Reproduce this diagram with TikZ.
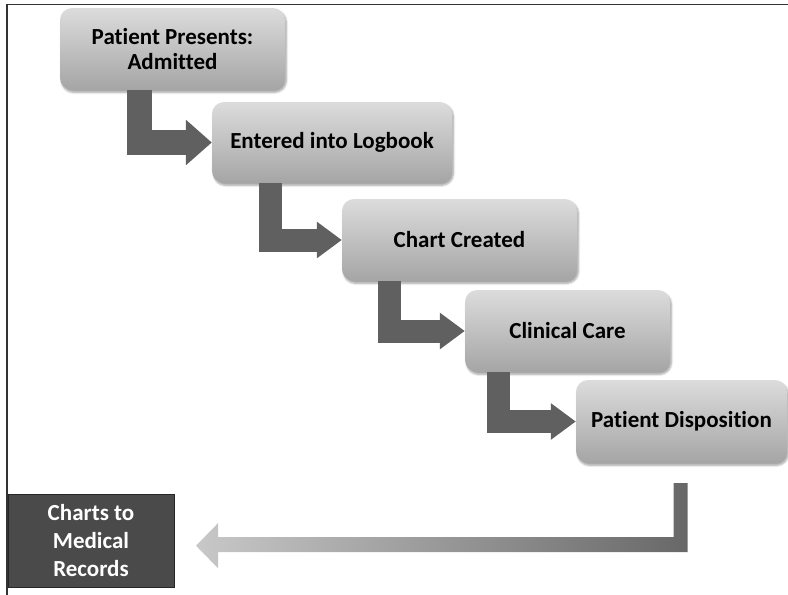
\documentclass[tikz,border=0pt]{standalone}
\usepackage{fontspec}
\setmainfont{Carlito}[Ligatures=NoCommon]
\usetikzlibrary{arrows.meta,shadows.blur}

\definecolor{boxhaut}{HTML}{DCDCDC}
\definecolor{boxbas}{HTML}{A5A5A5}
\definecolor{fleche}{HTML}{606060}
\definecolor{archive}{HTML}{4A4A4A}
\definecolor{retourclair}{HTML}{C8C8C8}
\definecolor{retourfonce}{HTML}{686868}

\tikzset{
  etape/.style={rounded corners=12pt, top color=boxhaut, bottom color=boxbas,
    blur shadow={shadow xshift=1.5pt, shadow yshift=-2.5pt, shadow opacity=35, shadow blur steps=6},
    align=center, inner sep=0pt, font=\bfseries\fontsize{23}{25}\selectfont},
  depot/.style={fill=archive, draw=black!85, line width=0.8pt, text=white,
    align=center, inner sep=0pt, font=\bfseries\fontsize{23}{28}\selectfont},
  coude/.style={draw=fleche, line width=23pt, line join=miter,
    -{Triangle[width=35pt,length=25pt]}},
}

\begin{document}
\begin{tikzpicture}[x=1pt, y=-1pt]

\useasboundingbox (0,0) rectangle (788,595);

% --- Cadre ---
\draw[black!80, line width=1.5pt] (788,4.5) -- (7,4.5) -- (7,595);

% --- Etapes ---
\node[etape, minimum width=225pt, minimum height=82pt] (b1) at (172.5,49) {Patient Presents:\\Admitted};
\node[etape, minimum width=240pt, minimum height=81pt] (b2) at (332,142.5) {Entered into Logbook};
\node[etape, minimum width=235pt, minimum height=82pt] (b3) at (459.5,240) {Chart Created};
\node[etape, minimum width=205pt, minimum height=82pt] (b4) at (567.5,331) {Clinical Care};
\node[etape, minimum width=211pt, minimum height=83pt] (b5) at (681.5,421.5) {Patient Disposition};

\node[depot, minimum width=166pt, minimum height=93pt] (recs) at (91,540.5) {Charts to\\Medical\\Records};

% --- Fleches coudees ---
\draw[coude, line width=25pt, -{Triangle[width=44pt,length=26pt]}] ([xshift=79.5pt]b1.south west) |- (b2.west);
\draw[coude] ([xshift=58.5pt]b2.south west) |- (b3.west);
\draw[coude] ([xshift=48pt]b3.south west) |- (b4.west);
\draw[coude] ([xshift=34pt]b4.south west) |- (b5.west);

% --- Retour vers les archives ---
\coordinate (dispo) at ([xshift=-8pt,yshift=-20pt]b5.south);
\shade[left color=retourclair, right color=retourfonce]
  (dispo) -- ++(14,0) -- ++(0,69) -- ++(-469.5,0) -- ++(0,16) -- ++(-22,-22.5)
  -- ++(22,-22.5) -- ++(0,14) -- ++(455.5,0) -- cycle;

\end{tikzpicture}
\end{document}
